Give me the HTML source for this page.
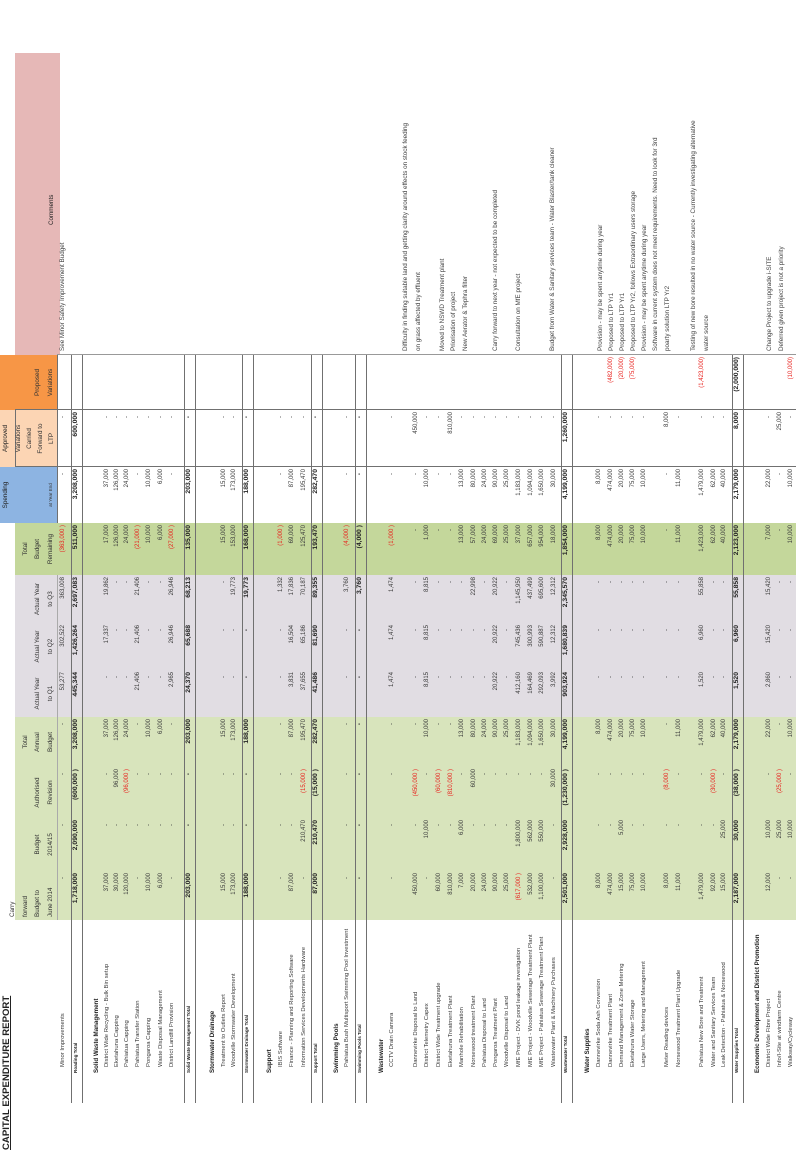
<!DOCTYPE html>
<html><head><meta charset="utf-8">
<style>
html,body{margin:0;padding:0;background:#fff;}
body{width:796px;height:1155px;overflow:hidden;position:relative;font-family:"Liberation Sans",sans-serif;}
#page{position:absolute;left:0;top:0;width:1155px;height:796px;transform-origin:0 0;transform:translate(0,1155px) rotate(-90deg);background:#fff;color:#3a3a3a;}
.abs{position:absolute;}
.bg{position:absolute;}
.hd{position:absolute;display:flex;flex-direction:column;justify-content:flex-end;align-items:center;text-align:center;font-size:6.3px;line-height:12.5px;color:#333;box-sizing:border-box;padding-bottom:1px;}
.cell{position:absolute;height:11.4px;line-height:11.4px;font-size:6px;text-align:right;white-space:nowrap;}
.tot .cell,.cell.b{font-weight:bold;font-size:6.8px;color:#222;}
.neg{color:#e8211d;}
.name{position:absolute;height:11.4px;line-height:11.4px;font-size:5.9px;white-space:nowrap;overflow:hidden;}
.sec{font-weight:bold;color:#222;font-size:6.2px;}
.totname{font-weight:bold;font-size:4.6px;color:#222;}
.cm{position:absolute;font-size:6.3px;white-space:nowrap;color:#444;height:11px;line-height:11px;}
.hl{position:absolute;height:1px;background:#707070;}
.vl{position:absolute;width:1px;background:#707070;}
</style></head>
<body>
<div id="page">
  <!-- column backgrounds -->
  <div class="bg" style="left:235px;top:15px;width:203px;height:781px;background:#d8e4bc"></div>
  <div class="bg" style="left:438px;top:15px;width:142px;height:781px;background:#e1dde3"></div>
  <div class="bg" style="left:580px;top:15px;width:52px;height:781px;background:#c4d79b"></div>
  <div class="bg" style="left:632px;top:0px;width:56px;height:57px;background:#8db4e2"></div>
  <div class="bg" style="left:688px;top:0px;width:57px;height:57px;background:#fcd5b4"></div>
  <div class="bg" style="left:745px;top:0px;width:55px;height:57px;background:#f79646"></div>
  <div class="bg" style="left:800px;top:15px;width:302px;height:45px;background:#e6b8b7"></div>

  <!-- grid lines -->
  <div class="vl" style="left:688px;top:15px;height:781px"></div>
  <div class="vl" style="left:745px;top:15px;height:781px"></div>
  <div class="vl" style="left:800px;top:57px;height:739px;background:#999"></div>
  <div class="hl" style="left:688px;top:15px;width:57px"></div>
  <div class="hl" style="left:632px;top:57px;width:168px"></div>
  <div class="hl" style="left:235px;top:57px;width:345px;background:#aaa"></div>

  <!-- title -->
  <div class="abs" style="left:5px;top:1px;font-size:9.6px;font-weight:bold;text-decoration:underline;color:#222;white-space:nowrap">CAPITAL EXPENDITURE REPORT</div>

  <!-- top band labels -->
  <div class="abs" style="left:632px;top:2px;width:56px;text-align:center;font-size:6.3px;color:#222">Spending</div>
  <div class="abs" style="left:688px;top:2px;width:57px;text-align:center;font-size:6.3px;color:#222">Approved</div>

  <!-- headers -->
  <div class="hd" style="left:235px;top:14px;width:49px;height:44px;align-items:flex-start;padding-left:3px"><div>Carry</div><div>forward</div><div>Budget to</div><div>June 2014</div></div>
  <div class="hd" style="left:284px;top:14px;width:53px;height:44px"><div>Budget</div><div>2014/15</div></div>
  <div class="hd" style="left:337px;top:14px;width:51px;height:44px"><div>Authorised</div><div>Revision</div></div>
  <div class="hd" style="left:388px;top:14px;width:50px;height:44px"><div>Total</div><div>Annual</div><div>Budget</div></div>
  <div class="hd" style="left:438px;top:14px;width:47px;height:44px"><div>Actual Year</div><div>to Q1</div></div>
  <div class="hd" style="left:485px;top:14px;width:47px;height:44px"><div>Actual Year</div><div>to Q2</div></div>
  <div class="hd" style="left:532px;top:14px;width:48px;height:44px"><div>Actual Year</div><div>to Q3</div></div>
  <div class="hd" style="left:580px;top:14px;width:52px;height:44px"><div>Total</div><div>Budget</div><div>Remaining</div></div>
  <div class="hd" style="left:632px;top:14px;width:56px;height:44px;font-size:4.6px"><div>at Year End</div></div>
  <div class="hd" style="left:688px;top:14px;width:57px;height:44px;line-height:11px"><div>Variations</div><div>Carried</div><div>Forward to</div><div>LTP</div></div>
  <div class="hd" style="left:745px;top:14px;width:55px;height:44px"><div>Proposed</div><div>Variations</div></div>
  <div class="abs" style="left:930px;top:48px;font-size:6.3px;color:#222">Comments</div>
</div>

<script>
var colL = [235,284,337,388,438,485,532,580,632,688,745];
var colR = [282,335,386,436,483,530,578,630,686,743,798];
var D='-';
// [rowCenter, type, name, values...]
var rows = [
 [64,'i','Minor Improvements',[D,D,D,D,'53,277','302,522','363,008','(363,000 )',D,D,'']],
 [76,'t','Roading Total',['1,718,000','2,090,000','(600,000 )','3,208,000','445,344','1,426,264','2,697,083','511,000','3,208,000','600,000','']],
 [97,'s','Solid Waste Management',null],
 [108,'i','District Wide Recycling - Bulk Bin setup',['37,000',D,D,'37,000',D,'17,337','19,862','17,000','37,000',D,'']],
 [118,'i','Eketahuna Capping',['30,000',D,'96,000','126,000',D,D,D,'126,000','126,000',D,'']],
 [128,'i','Pahiatua Capping',['120,000',D,'(96,000 )','24,000',D,D,D,'24,000','24,000',D,'']],
 [139,'i','Pahiatua Transfer Station',[D,D,D,D,'21,406','21,406','21,406','(21,000 )',D,D,'']],
 [150,'i','Pongaroa Capping',['10,000',D,D,'10,000',D,D,D,'10,000','10,000',D,'']],
 [162,'i','Waste Disposal Management',['6,000',D,D,'6,000',D,D,D,'6,000','6,000',D,'']],
 [173,'i','District Landfill Provision',[D,D,D,D,'2,965','26,946','26,946','(27,000 )',D,D,'']],
 [189,'t','Solid Waste Management Total',['203,000',D,D,'203,000','24,370','65,688','68,213','135,000','203,000',D,'']],
 [213,'s','Stormwater Drainage',null],
 [225,'i','Treatment to Outlets Report',['15,000',D,D,'15,000',D,D,D,'15,000','15,000',D,'']],
 [235,'i','Woodville Stormwater Development',['173,000',D,D,'173,000',D,D,'19,773','153,000','173,000',D,'']],
 [247,'t','Stormwater Drainage Total',['188,000',D,D,'188,000',D,D,'19,773','168,000','188,000',D,'']],
 [270,'s','Support',null],
 [282,'i','IBIS Software',[D,D,D,D,D,D,'1,332','(1,000 )',D,D,'']],
 [293,'i','Finance - Planning and Reporting Software',['87,000',D,D,'87,000','3,831','16,504','17,836','69,000','87,000',D,'']],
 [305,'i','Information Services Developments Hardware',[D,'210,470','(15,000 )','195,470','37,655','65,186','70,187','125,470','195,470',D,'']],
 [316,'t','Support Total',['87,000','210,470','(15,000 )','282,470','41,486','81,690','89,355','193,470','282,470',D,'']],
 [337,'s','Swimming Pools',null],
 [348,'i','Pahiatua Bush Multisport Swimming Pool Investment',[D,D,D,D,D,D,'3,760','(4,000 )',D,D,'']],
 [360,'t','Swimming Pools Total',[D,D,D,D,D,D,'3,760','(4,000 )',D,D,'']],
 [382,'s','Wastewater',null],
 [393,'i','CCTV Drain Camera',[D,D,D,D,'1,474','1,474','1,474','(1,000 )',D,D,'']],
 [417,'i','Dannevirke Disposal to Land',['450,000',D,'(450,000 )',D,D,D,D,D,D,'450,000','']],
 [428,'i','District Telemetry Capex',[D,'10,000',D,'10,000','8,815','8,815','8,815','1,000','10,000',D,'']],
 [440,'i','District Wide Treatment upgrade',['60,000',D,'(60,000 )',D,D,D,D,D,D,D,'']],
 [452,'i','Eketahuna Treatment Plant',['810,000',D,'(810,000 )',D,D,D,D,D,D,'810,000','']],
 [463,'i','Manhole Rehabilitation',['7,000','6,000',D,'13,000',D,D,D,'13,000','13,000',D,'']],
 [475,'i','Norsewood treatment Plant',['20,000',D,'60,000','80,000',D,D,'22,998','57,000','80,000',D,'']],
 [486,'i','Pahiatua Disposal to Land',['24,000',D,D,'24,000',D,D,D,'24,000','24,000',D,'']],
 [497,'i','Pongaroa Treatment Plant',['90,000',D,D,'90,000','20,922','20,922','20,922','69,000','90,000',D,'']],
 [508,'i','Woodville Disposal to Land',['25,000',D,D,'25,000',D,D,D,'25,000','25,000',D,'']],
 [520,'i','MfE Project - DVK pond leakage investigation',['(617,000 )','1,800,000',D,'1,183,000','412,160','745,436','1,145,950','37,000','1,183,000',D,'']],
 [532,'i','MfE Project - Woodville Sewerage Treatment Plant',['532,000','562,000',D,'1,094,000','164,469','300,993','437,499','657,000','1,094,000',D,'']],
 [543,'i','MfE Project - Pahiatua Sewerage Treatment Plant',['1,100,000','550,000',D,'1,650,000','292,093','590,887','695,600','954,000','1,650,000',D,'']],
 [555,'i','Wastewater Plant & Machinery Purchases',[D,D,'30,000','30,000','3,992','12,312','12,312','18,000','30,000',D,'']],
 [566,'t','Wastewater Total',['2,501,000','2,928,000','(1,230,000 )','4,199,000','903,924','1,680,839','2,345,570','1,854,000','4,199,000','1,260,000','']],
 [588,'s','Water Supplies',null],
 [600,'i','Dannevirke Soda Ash Conversion',['8,000',D,D,'8,000',D,D,D,'8,000','8,000',D,'']],
 [612,'i','Dannevirke Treatment Plant',['474,000',D,D,'474,000',D,D,D,'474,000','474,000',D,'(482,000)']],
 [623,'i','Demand Management & Zone Metering',['15,000','5,000',D,'20,000',D,D,D,'20,000','20,000',D,'(20,000)']],
 [634,'i','Eketahuna Water Storage',['75,000',D,D,'75,000',D,D,D,'75,000','75,000',D,'(75,000)']],
 [645,'i','Large Users, Metering and Management',['10,000',D,D,'10,000',D,D,D,'10,000','10,000',D,'']],
 [668,'i','Meter Reading devices',['8,000',D,'(8,000 )',D,D,D,D,D,D,'8,000','']],
 [680,'i','Norsewood Treatment Plant Upgrade',['11,000',D,D,'11,000',D,D,D,'11,000','11,000',D,'']],
 [703,'i','Pahiatua New Bore and Treatment',['1,479,000',D,D,'1,479,000','1,520','6,960','55,858','1,423,000','1,479,000',D,'(1,423,000)']],
 [715,'i','Water and Sanitary Services Team',['92,000',D,'(30,000 )','62,000',D,D,D,'62,000','62,000',D,'']],
 [725,'i','Leak Detection - Pahiatua & Norsewood',['15,000','25,000',D,'40,000',D,D,D,'40,000','40,000',D,'']],
 [737,'t','Water Supplies Total',['2,187,000','30,000','(38,000 )','2,179,000','1,520','6,960','55,858','2,123,000','2,179,000','8,000','(2,000,000)']],
 [758,'s','Economic Development and District Promotion',null],
 [770,'i','District Wide Fibre Project',['12,000','10,000',D,'22,000','2,860','15,420','15,420','7,000','22,000',D,'']],
 [781,'i','Info/I-Site at windfarm Centre',[D,'25,000','(25,000 )',D,D,D,D,D,D,'25,000','']],
 [792,'i','Walkway/Cycleway',[D,'10,000',D,'10,000',D,D,D,'10,000','10,000',D,'(10,000)']]
];
var comments = [
 [62,'See Minor Safety Improvement Budget'],
 [405,'Difficulty in finding suitable land and getting clarity around effects on stock feeding'],
 [418,'on grass affected by effluent'],
 [442,'Moved to NSWD Treatment plant'],
 [453,'Priorisation of project'],
 [465,'New Aerator & Tephra filter'],
 [495,'Carry forward to next year - not expected to be completed'],
 [518,'Consultation on MfE project'],
 [552,'Budget from Water & Sanitary services team -  Water Blaster/tank cleaner'],
 [600,'Provision - may be spent anytime during year'],
 [611,'Proposed to  LTP Yr1'],
 [622,'Proposed to  LTP Yr1'],
 [633,'Proposed to  LTP Yr2, follows Extraordinary users storage'],
 [644,'Provision - may be spent anytime during year'],
 [655,'Software in current system does not meet requirements.  Need to look for 3rd'],
 [667,'poarty solution  LTP Yr2'],
 [693,'Testing of new bore resulted in no water source - Currently investigating alternative'],
 [706,'water source'],
 [769,'Change Project to upgrade i-SITE'],
 [781,'Deferred given project is not a priority']
];
var page = document.getElementById('page');
rows.forEach(function(r){
  var y = r[0] - 5.7, type = r[1];
  var n = document.createElement('div');
  n.className = 'name' + (type==='s'?' sec':type==='t'?' totname':'');
  n.style.top = y + 'px';
  n.style.left = (type==='i'?88:82) + 'px';
  n.style.width = (type==='i'?145:151) + 'px';
  n.textContent = r[2];
  
  
  page.appendChild(n);
  if (type==='t') {
    [r[0]-5.5, r[0]+5.5].forEach(function(ly){
      var l = document.createElement('div');
      l.className = 'hl';
      l.style.left = '52px'; l.style.width = '748px'; l.style.top = Math.round(ly) + 'px';
      
      
      page.appendChild(l);
    });
  }
  if (!r[3]) return;
  r[3].forEach(function(v, i){
    if (v === '') return;
    var c = document.createElement('div');
    c.className = 'cell' + (type==='t'?' b':'') + (v.charAt(0)==='('?' neg':'');
    c.style.top = y + 'px';
    c.style.left = colL[i] + 'px';
    c.style.width = (colR[i]-colL[i]) + 'px';
    if (v === '-') c.style.paddingRight = '4px', c.style.width = (colR[i]-colL[i]-4)+'px';
    c.textContent = v;
    
    
    page.appendChild(c);
  });
});
comments.forEach(function(cm){
  var c = document.createElement('div');
  c.className = 'cm';
  c.style.top = (cm[0]-5.5) + 'px';
  c.style.left = '804px';
  c.textContent = cm[1];
  
  
  page.appendChild(c);
});
</script>
</body></html>
